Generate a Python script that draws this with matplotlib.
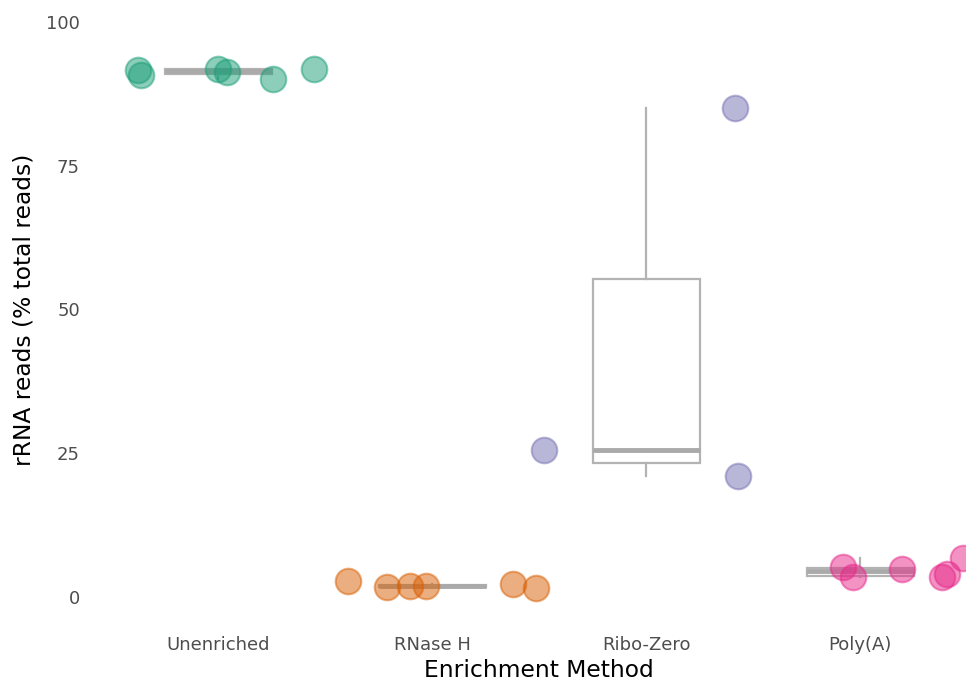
import numpy as np
import matplotlib.pyplot as plt

# rRNA fraction per library, grouped by enrichment method
methods = ["Unenriched", "RNase H", "Ribo-Zero", "Poly(A)"]
colors = ["#1B9E77", "#D95F02", "#7570B3", "#E7298A"]

unenriched = [91.65, 90.8, 91.77, 91.25, 90.1, 91.77]
rnase_h = [2.78, 1.79, 1.91, 1.91, 2.26, 1.69]
ribo_zero = [25.57, 85.0, 21.04]
poly_a = [5.17, 3.43, 4.99, 3.53, 4.12, 6.73]

# horizontal jitter offsets used for the points
jit_unenriched = [-0.373, -0.362, 0.001, 0.041, 0.256, 0.450]
jit_rnase_h = [-0.392, -0.212, -0.103, -0.028, 0.377, 0.486]
jit_ribo_zero = [-0.477, 0.416, 0.428]
jit_poly_a = [-0.078, -0.034, 0.195, 0.382, 0.405, 0.483]

groups = [unenriched, rnase_h, ribo_zero, poly_a]
jitters = [jit_unenriched, jit_rnase_h, jit_ribo_zero, jit_poly_a]

fig = plt.figure(figsize=(9.66, 6.81), dpi=100)
ax = fig.add_axes([89.6 / 966, 55 / 681, 898.8 / 966, 633 / 681])

pos = np.arange(1, len(methods) + 1)
box_col = "#b3b3b3"
ax.boxplot(groups, positions=pos, widths=0.5, showfliers=False, showcaps=False,
           patch_artist=True,
           boxprops=dict(facecolor="white", edgecolor=box_col, linewidth=1.6),
           whiskerprops=dict(color=box_col, linewidth=1.6),
           medianprops=dict(color="#aaaaaa", linewidth=3.5, solid_capstyle="butt"))

for i, (vals, jit) in enumerate(zip(groups, jitters)):
    xs = pos[i] + np.array(jit)
    ax.scatter(xs, vals, s=340, color=colors[i], alpha=0.5,
               edgecolors=colors[i], linewidths=1.5, zorder=3)

ax.set_xlim(0.4, 4.6)
ax.set_ylim(-5, 105)
ax.set_xticks(pos)
ax.set_xticklabels(methods)
ax.set_yticks([0, 25, 50, 75, 100])
ax.tick_params(length=0, labelsize=13, colors="#4d4d4d")
ax.tick_params(axis="x", pad=7)
ax.tick_params(axis="y", pad=7)
for s in ax.spines.values():
    s.set_visible(False)

ax.set_xlabel("Enrichment Method", fontsize=16.8)
ax.set_ylabel("rRNA reads (% total reads)", fontsize=16.8)
ax.xaxis.set_label_coords(0.5, -0.052)
ax.yaxis.set_label_coords(-0.060, 0.5)

fig.savefig("out.png", dpi=100)
